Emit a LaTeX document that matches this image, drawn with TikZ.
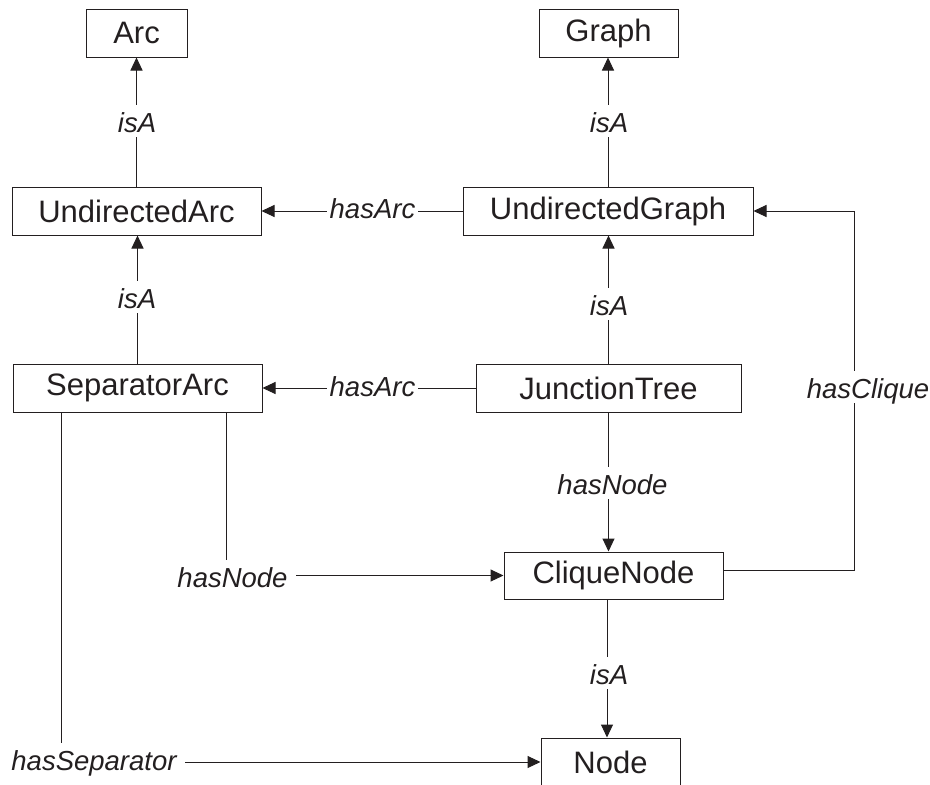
\documentclass[tikz,border=0pt]{standalone}
\usepackage{fontspec}
\setmainfont{Liberation Sans}
\usetikzlibrary{arrows.meta}
\definecolor{ink}{RGB}{35,31,32}
\begin{document}
\begin{tikzpicture}[x=1pt,y=-1pt,
  cls/.style={draw=ink, line width=1pt, rectangle, minimum height=48pt,
    inner sep=0pt, text=ink, font=\fontsize{31}{36}\selectfont},
  rel/.style={fill=white, text=ink, anchor=base, inner xsep=3pt, inner ysep=3pt,
    text height=24pt, text depth=2pt, font=\fontsize{27.5}{32}\selectfont\itshape},
  cornerrel/.style={rel, inner xsep=8pt},
  link/.style={draw=ink, line width=1pt},
  arr/.style={link, -{Triangle[length=13pt,width=12pt]}},
]
\useasboundingbox (0,0) rectangle (930,785);

% classes
\node[cls, minimum width=101pt] (arc)    at (136.5,33)  {Arc};
\node[cls, minimum width=139pt] (graph)  at (608.5,33)  {Graph};
\node[cls, minimum width=249pt] (uarc)   at (136.5,211) {UndirectedArc};
\node[cls, minimum width=290pt] (ugraph) at (608,211)   {UndirectedGraph};
\node[cls, minimum width=249pt] (separc) at (137.5,388) {SeparatorArc};
\node[cls, minimum width=265pt] (jtree)  at (608.5,388) {JunctionTree};
\node[cls, minimum width=219pt, minimum height=47pt] (clique) at (613.5,575.5) {CliqueNode};
\node[cls, minimum width=139pt] (node)   at (610.5,762) {Node};

% relations
\draw[arr] (uarc.north) -- (arc.south);
\draw[arr] (ugraph.north) -- (ugraph.north |- graph.south);
\draw[arr] (separc.north) -- (separc.north |- uarc.south);
\draw[arr] (jtree.north) -- (jtree.north |- ugraph.south);
\draw[arr] (ugraph.west) -- (ugraph.west -| uarc.east);
\draw[arr] (jtree.west) -- (jtree.west -| separc.east);
\draw[arr] (jtree.south) -- (jtree.south |- clique.north);
\draw[arr] ([xshift=-6.5pt]clique.south) -- ([xshift=-6.5pt]clique.south |- node.north);
\draw[arr] ([xshift=88.5pt]separc.south) |- (clique.west);
\draw[arr] ([xshift=-76.5pt]separc.south) |- (node.west);
\draw[arr] ([yshift=5.5pt]clique.east) -- ++(131,0) |- (ugraph.east);

% relation labels
\node[rel] (l1)  at (137,132)   {isA};
\node[rel] (l2)  at (609,132)   {isA};
\node[rel] (l3)  at (137,308)   {isA};
\node[rel] (l4)  at (609,315)   {isA};
\node[rel] (l5)  at (609,684)   {isA};
\node[rel] (l6)  at (372.5,218) {hasArc};
\node[rel] (l7)  at (372.5,396) {hasArc};
\node[rel] (l8)  at (612.5,494) {hasNode};
\node[cornerrel] (l9)  at (232.5,587) {hasNode};
\node[cornerrel] (l10) at (94,770)    {hasSeparator};
\node[rel] (l11) at (868,398)   {hasClique};
\end{tikzpicture}
\end{document}
